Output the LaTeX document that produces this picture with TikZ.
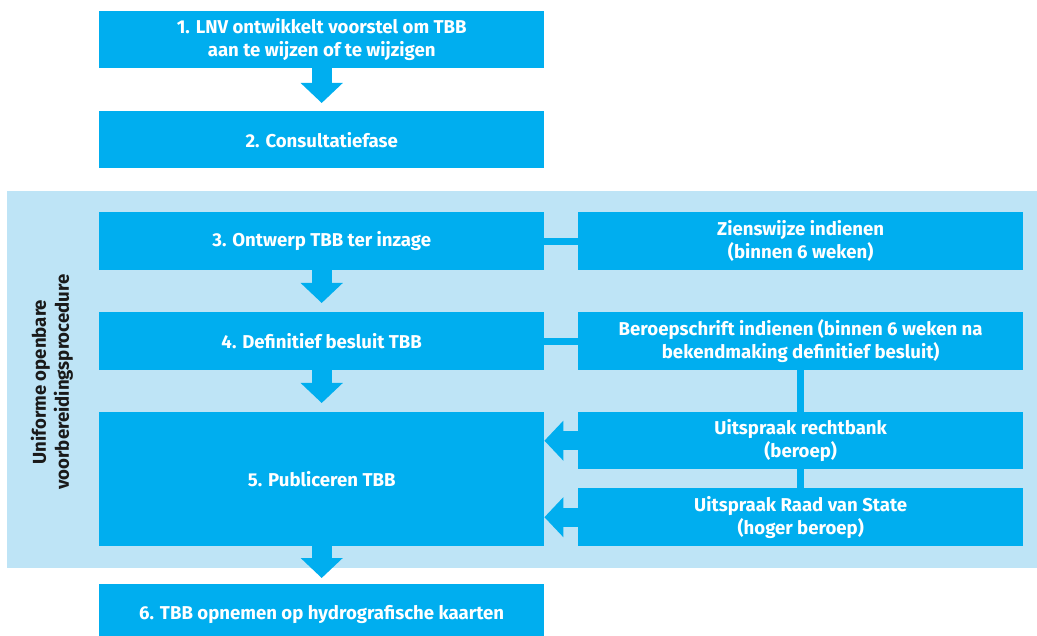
\documentclass[tikz,border=0pt]{standalone}
\usepackage{fontspec}
\setmainfont{Fira Sans}
\usetikzlibrary{arrows.meta}
\definecolor{cyanbox}{HTML}{00AEEF}
\definecolor{panel}{HTML}{BEE4F6}
\definecolor{sidetext}{HTML}{1A1A1A}
\begin{document}
\begin{tikzpicture}[x=1pt,y=-1pt,
  stepbox/.style={fill=cyanbox, text=white, font=\fontsize{18.6}{23}\selectfont\bfseries, align=center, inner sep=0pt, anchor=north west},
  flowarrow/.style={draw=cyanbox, line width=20pt, -{Triangle[width=41pt,length=20pt]}},
  sidearrow/.style={draw=cyanbox, line width=19pt, -{Triangle[width=39pt,length=19pt]}},
  link/.style={draw=cyanbox, line width=7pt}]
\useasboundingbox (0,0) rectangle (1037,636);
\fill[panel] (7,191) rectangle (1037,568);
% left column
\node[stepbox, minimum width=445pt, minimum height=57pt] (b1) at (99,11) {1. LNV ontwikkelt voorstel om TBB\\aan te wijzen of te wijzigen};
\node[stepbox, minimum width=445pt, minimum height=57pt] (b2) at (99,111) {2. Consultatiefase};
\node[stepbox, minimum width=445pt, minimum height=58pt] (b3) at (99,212) {3. Ontwerp TBB ter inzage};
\node[stepbox, minimum width=445pt, minimum height=58pt] (b4) at (99,312) {4. Definitief besluit TBB};
\node[stepbox, minimum width=445pt, minimum height=134pt] (b5) at (99,412) {5. Publiceren TBB};
\node[stepbox, minimum width=445pt, minimum height=60pt] (b6) at (99,584) {6. TBB opnemen op hydrografische kaarten};
% right column
\node[stepbox, minimum width=445pt, minimum height=58pt] (r1) at (578,212) {Zienswijze indienen\\(binnen 6 weken)};
\node[stepbox, minimum width=445pt, minimum height=58pt] (r2) at (578,312) {Beroepschrift indienen (binnen 6 weken na\\bekendmaking definitief besluit)};
\node[stepbox, minimum width=445pt, minimum height=57pt] (r3) at (578,412) {Uitspraak rechtbank\\(beroep)};
\node[stepbox, minimum width=445pt, minimum height=58pt] (r4) at (578,488) {Uitspraak Raad van State\\(hoger beroep)};
% side label
\node[rotate=90, text=sidetext, font=\fontsize{18.6}{23}\selectfont\bfseries, align=center] (side) at (52,382) {Uniforme openbare\\voorbereidingsprocedure};
% flow arrows
\draw[flowarrow, shorten >=8pt] (b1.south) -- (b2.north);
\draw[flowarrow, shorten >=9pt] (b3.south) -- (b4.north);
\draw[flowarrow, shorten >=9pt] (b4.south) -- (b5.north);
\draw[flowarrow, shorten >=6pt] (b5.south) -- (b6.north);
% links
\draw[link] (b3.east) -- (r1.west);
\draw[link] (b4.east) -- (r2.west);
\draw[link] (r2.south) -- (r3.north);
\draw[link] (r3.south) -- (r4.north);
% side arrows
\draw[sidearrow] (r3.west) -- (b5.east |- r3.west);
\draw[sidearrow] (r4.west) -- (b5.east |- r4.west);
\end{tikzpicture}
\end{document}
